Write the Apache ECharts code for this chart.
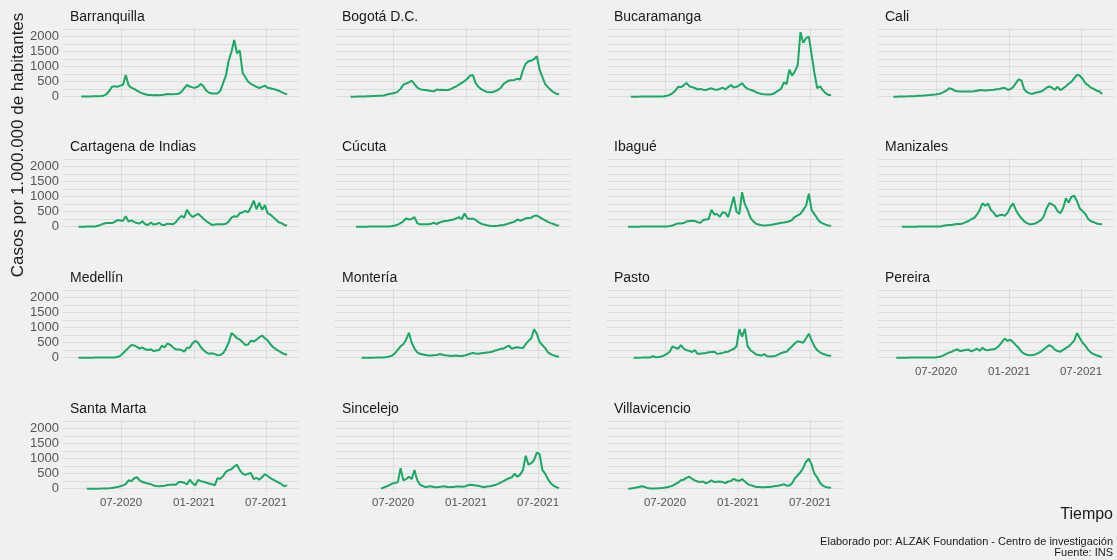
<!DOCTYPE html>
<html>
<head>
<meta charset="utf-8">
<script src="https://cdn.jsdelivr.net/npm/echarts@6/dist/echarts.min.js"></script>
<style>
html,body{margin:0;padding:0;background:#f0f0f0;}
#main{width:1117px;height:560px;}
</style>
</head>
<body>
<div id="main"></div>
<script>
// ciudades en el orden de los paneles
var ciudades = ['Barranquilla', 'Bogotá D.C.', 'Bucaramanga', 'Cali',
  'Cartagena de Indias', 'Cúcuta', 'Ibagué', 'Manizales',
  'Medellín', 'Montería', 'Pasto', 'Pereira',
  'Santa Marta', 'Sincelejo', 'Villavicencio'];

// una semana por valor, desde 2020-03-02
var inicio = '2020-03-02';
var nSemanas = 78;

// casos por 1.000.000 de habitantes
var barranquilla = [null,null,null,5,5,8,10,12,15,18,20,35,80,180,330,350,330,370,400,720,380,300,260,200,150,110,80,60,55,50,55,50,60,70,90,80,85,90,100,160,280,390,340,310,300,340,420,340,200,130,110,105,110,200,450,700,1200,1500,1890,1450,1540,800,650,500,430,380,330,290,330,370,300,280,260,230,200,150,110,80];
var bogota = [null,null,0,2,3,5,8,10,15,18,20,25,30,35,40,70,90,110,130,170,260,400,440,480,540,420,300,250,230,220,210,190,180,240,220,230,220,225,250,300,340,400,460,520,600,700,720,450,330,250,200,160,150,150,180,230,290,420,490,540,550,560,600,570,880,1100,1180,1200,1250,1350,900,650,420,320,220,150,100,80];
var bucaramanga = [null,null,null,null,null,0,0,2,3,5,5,6,8,8,10,10,10,12,30,60,120,200,330,320,380,460,350,320,290,240,260,230,220,260,280,240,230,260,300,240,320,390,310,330,380,450,330,260,230,200,150,120,90,80,75,70,90,140,200,260,480,420,900,700,850,1050,2150,1800,1950,2000,1400,800,280,350,220,120,60,60];
var cali = [null,null,0,2,5,8,10,12,15,18,22,30,35,40,50,55,65,75,90,110,150,200,280,260,200,180,170,170,170,170,175,180,200,220,215,210,215,220,230,250,260,280,300,230,250,320,450,580,540,250,150,110,100,130,150,170,220,300,340,300,230,330,220,280,350,430,500,620,730,700,600,450,380,300,260,200,180,90];
var cartagena = [null,null,0,0,2,3,4,5,10,30,60,100,120,120,120,160,220,210,200,350,170,210,160,120,110,180,80,60,140,70,90,130,60,60,100,90,80,150,270,360,300,560,420,320,380,430,350,260,180,120,60,70,80,80,80,100,170,300,350,330,450,480,530,480,650,870,580,800,560,720,450,400,320,230,150,120,60,40];
var cucuta = [null,null,null,null,0,0,0,0,2,3,4,5,5,6,8,8,10,20,40,70,120,180,280,240,260,320,120,80,80,85,80,100,130,90,140,170,190,200,220,240,280,320,250,440,280,260,270,230,150,100,70,50,30,20,25,30,45,60,80,110,140,170,240,200,230,280,290,300,360,370,320,260,210,160,120,90,50,40];
var ibague = [null,null,null,null,0,0,1,2,2,3,3,4,5,5,5,5,5,8,10,20,40,80,110,110,120,170,190,200,190,150,130,220,240,260,560,410,420,330,480,460,320,650,1000,500,420,1150,750,550,300,180,100,70,50,40,45,55,70,90,110,130,140,160,180,230,330,380,430,560,700,1100,550,420,280,160,110,70,40,30];
var manizales = [null,null,null,null,null,0,0,0,0,0,2,3,4,5,6,6,8,8,8,10,30,45,55,60,80,90,90,110,150,190,250,290,400,560,780,700,770,560,470,340,380,400,360,460,650,780,560,400,280,180,120,80,90,110,160,220,340,600,780,750,680,520,450,620,950,800,1000,1030,850,600,520,420,260,180,150,110,90,80];
var medellin = [null,null,0,0,0,1,2,2,3,3,4,5,5,6,8,10,25,60,150,240,330,420,410,360,300,340,280,260,280,220,240,260,400,340,480,430,340,280,270,260,200,330,330,480,560,500,350,250,170,130,150,120,80,90,150,300,500,820,750,650,600,520,420,440,570,540,600,680,740,650,580,450,350,280,230,170,120,100];
var monteria = [null,null,null,null,null,null,0,0,0,0,2,3,5,8,10,20,40,70,150,260,380,450,600,830,500,300,180,130,110,90,70,70,80,90,120,100,80,70,60,65,70,60,55,70,100,130,160,140,130,150,160,170,180,200,240,260,300,300,360,400,300,330,350,330,320,450,560,650,950,800,520,420,320,180,120,80,50,30];
var pasto = [null,null,null,null,null,null,0,0,2,3,5,5,8,50,15,20,40,80,130,200,380,330,300,420,300,250,230,190,250,130,130,150,160,180,190,200,130,140,160,190,200,250,290,380,950,700,960,380,250,180,110,90,70,120,50,40,50,60,100,150,180,200,300,380,480,550,520,500,650,800,580,380,250,180,130,100,70,60];
var pereira = [null,null,null,0,0,0,1,2,3,3,4,5,5,6,7,8,9,10,20,40,80,130,170,200,250,280,220,240,260,270,210,250,300,230,330,260,250,270,280,320,400,520,640,560,600,520,420,330,200,130,100,80,90,110,150,200,280,350,420,370,270,220,200,260,320,380,470,580,820,650,500,400,260,170,120,80,50,20];
var santaMarta = [null,null,null,null,null,0,0,0,1,2,3,5,8,12,20,40,60,80,110,150,280,250,350,380,280,220,200,170,150,110,90,80,90,100,120,130,140,130,220,220,200,140,300,180,110,290,250,230,200,170,150,110,350,330,420,560,620,650,740,800,620,500,460,500,520,320,360,300,380,480,430,350,300,250,200,150,80,120];
var sincelejo = [null,null,null,null,null,null,null,null,null,null,null,null,null,0,40,80,120,170,190,220,680,280,320,400,320,620,280,130,90,50,70,80,50,45,60,70,80,50,55,60,70,70,65,70,110,130,120,110,100,70,50,70,80,100,120,160,200,250,300,350,380,500,400,470,620,1100,800,850,950,1200,1150,620,500,320,180,100,50,20];
var villavicencio = [null,null,null,null,0,5,20,40,60,80,60,20,10,10,10,15,20,30,50,70,100,150,200,280,300,360,400,330,280,240,220,240,180,220,280,220,230,240,220,190,240,260,330,280,260,320,240,160,120,90,60,55,50,50,55,60,70,90,100,120,150,100,110,180,350,450,550,700,900,1000,800,500,380,200,100,60,40,30];

var valores = [barranquilla, bogota, bucaramanga, cali, cartagena, cucuta, ibague, manizales,
  medellin, monteria, pasto, pereira, santaMarta, sincelejo, villavicencio];

// marcas de los ejes
var yEtiquetas = [0, 500, 1000, 1500, 2000];
var yLineas = [0, 250, 500, 750, 1000, 1250, 1500, 1750, 2000, 2250];
var xEtiquetas = ['2020-07-01', '2021-01-01', '2021-07-01'];

var myChart = echarts.init(document.getElementById('main'));

var dia = 24 * 3600 * 1000;
var t0 = new Date(inicio + 'T00:00:00').getTime();
var semanas = [];
for (var i = 0; i < nSemanas; i++) {
  semanas.push(t0 + i * 7 * dia);
}
var xTicks = xEtiquetas.map(function (d) { return new Date(d + 'T00:00:00').getTime(); });
var xMin = new Date('2020-02-06T00:00:00').getTime();
var xMax = new Date('2021-09-22T00:00:00').getTime();

var colLeft = [63, 335, 607, 878];
var rowTop = [28, 158, 289, 420];
var w = 236, h = 72;
var verde = '#1aa865';
var gris = '#dcdcdc';
var fuente = 'Liberation Sans, Arial';

function fmtFecha(v) {
  var d = new Date(v + 12 * 3600 * 1000);
  var m = d.getMonth() + 1;
  return (m < 10 ? '0' + m : m) + '-' + d.getFullYear();
}

var grids = [], xAxes = [], yAxes = [], series = [], titles = [];
ciudades.forEach(function (c, k) {
  var row = Math.floor(k / 4), col = k % 4;
  grids.push({ left: colLeft[col], top: rowTop[row], width: w, height: h });
  titles.push({
    text: c, left: colLeft[col] + 7, top: rowTop[row] - 18, padding: 0,
    textStyle: { fontSize: 14, fontWeight: 'normal', color: '#1a1a1a', fontFamily: fuente }
  });
  // eje de tiempo como eje numérico en milisegundos
  xAxes.push({
    type: 'value', gridIndex: k, min: xMin, max: xMax,
    axisLine: { show: false },
    axisTick: { show: false, customValues: xTicks },
    splitLine: { show: true, lineStyle: { color: gris, width: 1 } },
    axisLabel: {
      show: k >= 11, customValues: xTicks, formatter: fmtFecha,
      color: '#555', fontSize: 11.5, margin: 5, fontFamily: fuente
    }
  });
  yAxes.push({
    type: 'value', gridIndex: k, min: -110, max: 2290,
    axisLine: { show: false },
    axisTick: { show: false, customValues: yLineas },
    splitLine: { show: true, lineStyle: { color: gris, width: 1 } },
    axisLabel: {
      show: col === 0, customValues: yEtiquetas,
      formatter: function (v) { return String(v); },
      color: '#555', fontSize: 13, margin: 4, fontFamily: fuente
    }
  });
  series.push({
    type: 'line', xAxisIndex: k, yAxisIndex: k,
    showSymbol: false, symbol: 'none', silent: true,
    lineStyle: { color: verde, width: 2 },
    data: valores[k].map(function (v, i) { return [semanas[i], v]; })
  });
});

var option = {
  backgroundColor: '#f0f0f0',
  animation: false,
  title: titles,
  grid: grids,
  xAxis: xAxes,
  yAxis: yAxes,
  series: series,
  graphic: [
    {
      type: 'text', x: 18, y: 145, rotation: Math.PI / 2,
      style: {
        text: 'Casos por 1.000.000 de habitantes', fill: '#1a1a1a', fontSize: 17,
        fontFamily: fuente, align: 'center', verticalAlign: 'middle'
      }
    },
    {
      type: 'text', x: 1113, y: 515,
      style: {
        text: 'Tiempo', fill: '#1a1a1a', fontSize: 16,
        fontFamily: fuente, align: 'right', verticalAlign: 'middle'
      }
    },
    {
      type: 'text', x: 1113, y: 536,
      style: {
        text: 'Elaborado por: ALZAK Foundation - Centro de investigación\nFuente: INS',
        fill: '#1a1a1a', fontSize: 11, lineHeight: 11, align: 'right',
        fontFamily: fuente
      }
    }
  ]
};

myChart.setOption(option);
</script>
</body>
</html>
